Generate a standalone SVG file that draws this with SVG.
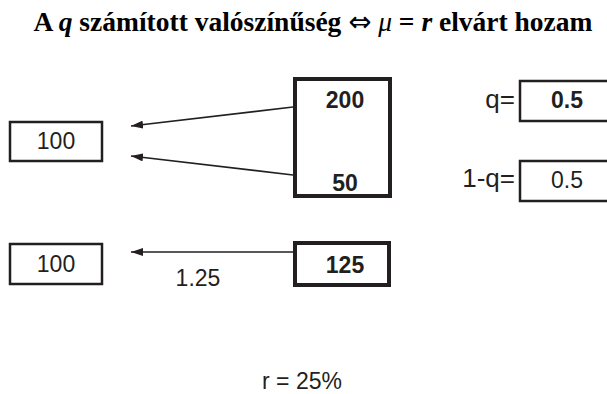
<svg xmlns="http://www.w3.org/2000/svg" width="607" height="394" viewBox="0 0 607 394">
  <style>
    .title { font-family: "Liberation Serif", "Times New Roman", serif; font-weight: bold; font-size: 27.5px; fill: #000; }
    .sym { font-family: "DejaVu Sans", sans-serif; font-weight: normal; }
    .num { font-family: "Liberation Sans", Arial, sans-serif; font-size: 23px; fill: #231f20; text-anchor: middle; }
    .bold { font-weight: bold; }
    .lbl { font-family: "Liberation Sans", Arial, sans-serif; font-size: 26px; fill: #231f20; text-anchor: end; }
    .box { fill: #fff; stroke: #231f20; stroke-width: 2.5; }
    .boxb { fill: #fff; stroke: #231f20; stroke-width: 4; }
    .conn { fill: none; stroke: #231f20; stroke-width: 1.6; marker-end: url(#head); }
  </style>
  <defs>
    <marker id="head" viewBox="0 0 12 8" refX="12" refY="4" markerWidth="12" markerHeight="8" markerUnits="userSpaceOnUse" orient="auto">
      <path d="M0,0 L12,4 L0,8 Z" fill="#231f20"/>
    </marker>
  </defs>
  <rect width="607" height="394" fill="#fff"/>

  <text class="title" x="313" y="31" text-anchor="middle">A <tspan font-style="italic">q</tspan> számított valószínűség <tspan class="sym">⇔</tspan> <tspan font-style="italic" font-weight="normal">μ</tspan> = <tspan font-style="italic">r</tspan> elvárt hozam</text>

  <g id="connectors">
    <line class="conn" x1="293" y1="107" x2="131" y2="126"/>
    <line class="conn" x1="293" y1="175" x2="131" y2="156"/>
    <line class="conn" x1="293" y1="252" x2="131" y2="252"/>
  </g>

  <g id="node-present-1">
    <rect class="box" x="10" y="122" width="92" height="39"/>
    <text class="num" x="56" y="149">100</text>
  </g>

  <g id="node-payoffs">
    <rect class="boxb" x="295" y="79" width="95" height="117"/>
    <text class="num bold" x="345" y="108">200</text>
    <text class="num bold" x="345" y="191">50</text>
  </g>

  <g id="node-q">
    <text class="lbl" x="515" y="108">q=</text>
    <rect class="box" x="520" y="81" width="100" height="40"/>
    <text class="num bold" x="567" y="108">0.5</text>
  </g>

  <g id="node-1-q">
    <text class="lbl" x="515" y="187">1-q=</text>
    <rect class="box" x="520" y="161" width="100" height="40"/>
    <text class="num" x="567" y="188">0.5</text>
  </g>

  <g id="node-present-2">
    <rect class="box" x="10" y="244" width="92" height="40"/>
    <text class="num" x="56" y="272">100</text>
  </g>

  <g id="node-expected">
    <rect class="boxb" x="295" y="243" width="94" height="42"/>
    <text class="num bold" x="345" y="273">125</text>
  </g>

  <text class="num" x="198" y="286">1.25</text>
  <text class="num" x="302" y="389">r = 25%</text>
</svg>
